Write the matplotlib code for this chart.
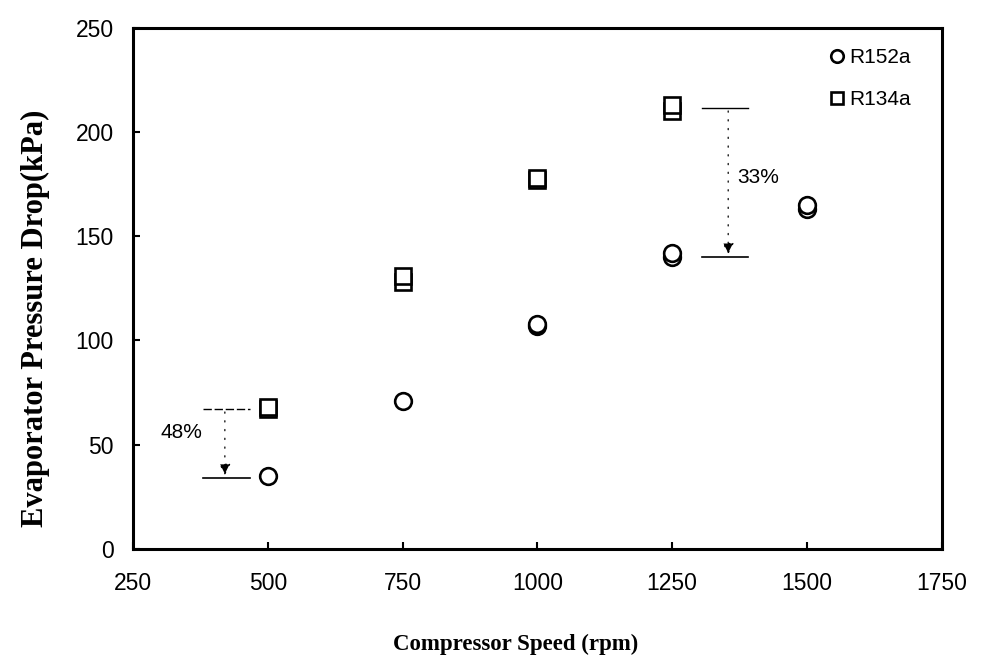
import numpy as np
import matplotlib.pyplot as plt

# datos (algunos puntos estan duplicados, casi superpuestos)
speed_r152a = [500, 750, 1000, 1000, 1250, 1250, 1500, 1500]
dp_r152a = [35, 71, 107, 108, 140, 142, 163, 165]
speed_r134a = [500, 500, 750, 750, 1000, 1000, 1250, 1250]
dp_r134a = [67, 68, 128, 131, 177, 178, 210, 213]

xticks = [250, 500, 750, 1000, 1250, 1500, 1750]
yticks = [0, 50, 100, 150, 200, 250]

# anotaciones de diferencia porcentual
ann_48 = dict(x=420, y_top=67, y_bot=34, x0=380, x1=467, text='48%', tx=340, ty=56)
ann_33 = dict(x=1354, y_top=211.5, y_bot=140, x0=1306, x1=1391, text='33%', tx=1370, ty=178)

sans = ['Liberation Sans', 'DejaVu Sans']
serif = ['Liberation Serif', 'DejaVu Serif']

fig = plt.figure(figsize=(9.87, 6.66), dpi=100)
ax = fig.add_axes([0.135, 0.176, 0.819, 0.782])

ax.plot(speed_r152a, dp_r152a, 'o', ms=12, mfc='white', mec='black', mew=1.9,
        linestyle='none', label='R152a')
ax.plot(speed_r134a, dp_r134a, 's', ms=12, mfc='white', mec='black', mew=1.9,
        linestyle='none', label='R134a')

for a in (ann_48, ann_33):
    ax.plot([a['x0'], a['x1']], [a['y_top'], a['y_top']], color='black', lw=1,
            ls=(0, (6, 2)) if a is ann_48 else '-')
    ax.plot([a['x0'], a['x1']], [a['y_bot'], a['y_bot']], color='black', lw=1.2)
    ax.annotate('', xy=(a['x'], a['y_bot']), xytext=(a['x'], a['y_top']),
                arrowprops=dict(arrowstyle='-|>', color='black', lw=0.9,
                                ls=(0, (1, 6)), mutation_scale=17))
    ax.text(a['tx'], a['ty'], a['text'], fontsize=15, family=sans,
            ha='center' if a is ann_48 else 'left', va='center')

ax.set_xlim(250, 1750)
ax.set_ylim(0, 250)
ax.set_xticks(xticks)
ax.set_yticks(yticks)
ax.tick_params(direction='in', length=5, width=1.5, labelsize=16.5)
ax.tick_params(axis='x', pad=17)
ax.tick_params(axis='y', pad=14)
for lbl in ax.get_xticklabels() + ax.get_yticklabels():
    lbl.set_family(sans)
for s in ax.spines.values():
    s.set_linewidth(2.2)

ax.set_xlabel('Compressor Speed (rpm)', fontsize=16.5, fontweight='bold',
              family=serif)
ax.set_ylabel('Evaporator Pressure Drop(kPa)', fontsize=22, fontweight='bold',
              family=serif)
ax.xaxis.set_label_coords(0.473, -0.163)
ax.yaxis.set_label_coords(-0.103, 0.443)

leg = ax.legend(loc='upper right', frameon=False, prop={'family': sans, 'size': 15},
                handletextpad=0.1, handlelength=1.0, labelspacing=1.1, markerscale=0.75,
                borderaxespad=0.5, bbox_to_anchor=(0.985, 0.997))

fig.savefig('out.png', dpi=100)
